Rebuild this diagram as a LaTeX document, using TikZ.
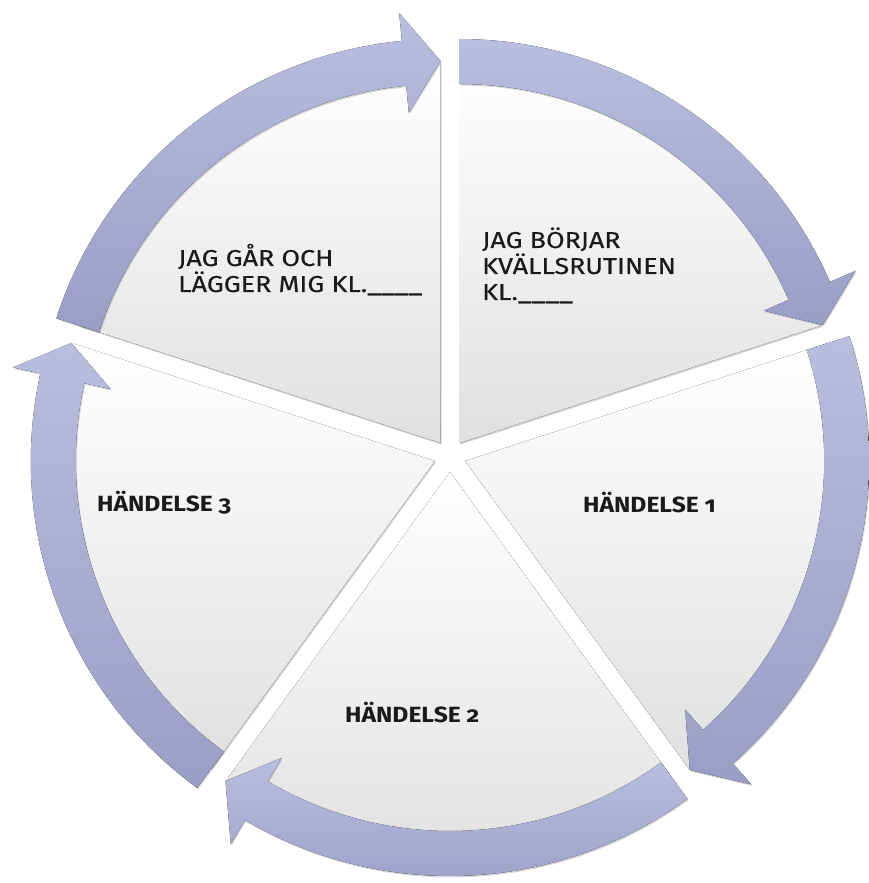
\documentclass[tikz,border=0pt]{standalone}
\usepackage{fontspec}
\setmainfont{Fira Sans}[Numbers=OldStyle]
\newfontfamily\lblfont{Fira Sans}[Numbers=OldStyle, FakeStretch=1.17, FakeBold=0.3]
\newfontfamily\blblfont{Fira Sans}[Numbers=OldStyle, FakeStretch=1.12]
\usetikzlibrary{calc,shadows}
\definecolor{arrowtop}{HTML}{B9BDDE}
\definecolor{arrowbot}{HTML}{9A9EC6}
\definecolor{wedgebot}{HTML}{E0E0E0}
\definecolor{txt}{HTML}{1A1A1A}
\begin{document}
\begin{tikzpicture}[x=1pt,y=1pt,
  wedge/.style={top color=white, bottom color=wedgebot, draw=none,
    drop shadow={shadow xshift=1pt, shadow yshift=-1.5pt, opacity=0.35}},
  arrowband/.style={top color=arrowtop, bottom color=arrowbot, draw=none,
    drop shadow={shadow xshift=1pt, shadow yshift=-1.5pt, opacity=0.3}},
  lbl/.style={anchor=base west, align=left, text=txt, inner sep=0pt,
    font=\lblfont\fontsize{23}{26}\selectfont},
  blbl/.style={lbl, font=\blblfont\fontsize{22}{26}\selectfont\bfseries}]
\useasboundingbox (0,0) rectangle (868,883);
\begin{scope}[shift={(450,427)}]
  \foreach \a in {126,54,-18,-90,198}{
    \begin{scope}[shift={(\a:16)}]
      \fill[wedge] (0,0) -- (\a+36:380) arc[start angle=\a+36, end angle=\a-36, radius=380] -- cycle;
    \end{scope}
  }
  \foreach \a in {126,54,-18,-90,198}{
    \begin{scope}[shift={(\a:16)}]
      \fill[arrowband] (\a+36:404) arc[start angle=\a+36, end angle=\a-30.5, radius=404]
        -- (\a-30.5:432) -- (\a-36:382) -- (\a-30.5:332) -- (\a-30.5:359)
        arc[start angle=\a-30.5, end angle=\a+36, radius=359] -- cycle;
    \end{scope}
  }
\end{scope}
\node[lbl] (tl) at (178,591) {JAG GÅR OCH\\LÄGGER MIG KL.\_\_\_\_};
\node[lbl] (tr) at (482,583) {JAG BÖRJAR\\KVÄLLSRUTINEN\\KL.\_\_\_\_};
\node[blbl] (h3) at (97,371) {HÄNDELSE 3};
\node[blbl] (h1) at (583,370) {HÄNDELSE 1};
\node[blbl] (h2) at (345,160) {HÄNDELSE 2};
\end{tikzpicture}
\end{document}
